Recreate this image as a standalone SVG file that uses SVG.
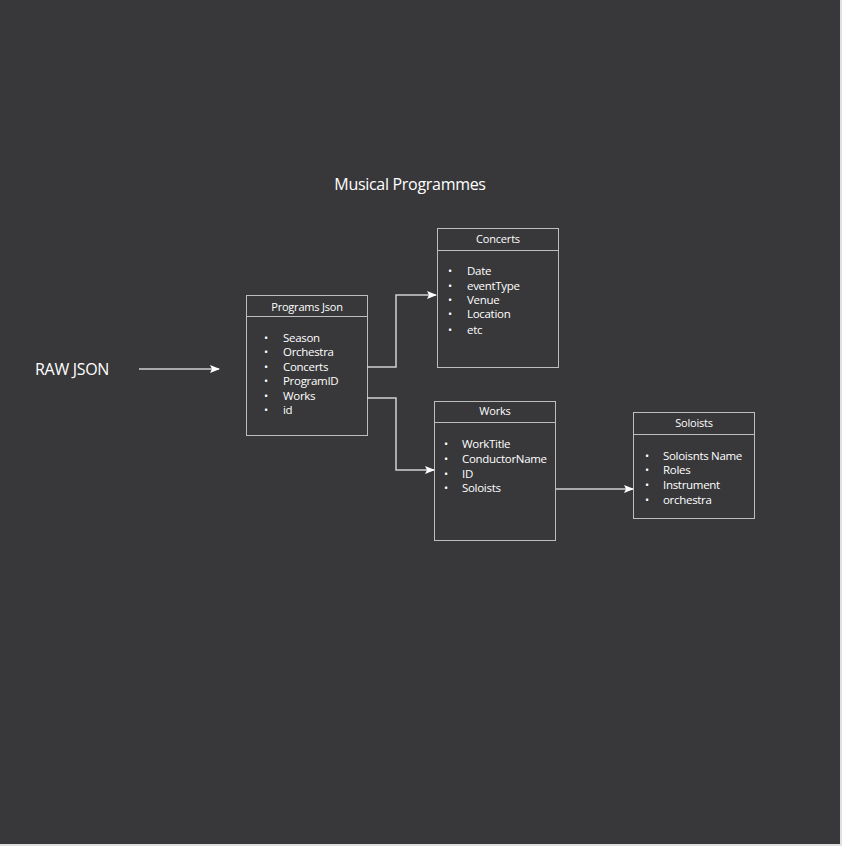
<svg xmlns="http://www.w3.org/2000/svg" width="842" height="846" viewBox="0 0 842 846">
<defs>
<style>
.box{fill:none;stroke:#bdbdbd;stroke-width:1}
.t{font-family:"Open Sans","Liberation Sans",sans-serif;fill:#ffffff}
.h{font-size:11px;text-anchor:middle;letter-spacing:-0.2px}
.li{font-size:11.5px;letter-spacing:-0.3px}
.b{font-size:11px}
.c{fill:none;stroke:#cfcfcf;stroke-width:1.5}
</style>
<marker id="ah" markerWidth="10" markerHeight="8" refX="9" refY="4" orient="auto" markerUnits="userSpaceOnUse">
<path d="M0,0 L10,4 L0,8 L2,4 Z" fill="#ffffff"/>
</marker>
</defs>
<rect x="0" y="0" width="842" height="846" fill="#e0e0e0"/>
<rect x="0" y="0" width="840" height="844" fill="#38383a"/>
<text class="t" x="410" y="190" font-size="16" text-anchor="middle" letter-spacing="-0.3">Musical Programmes</text>
<text class="t" x="35" y="375" font-size="16" letter-spacing="-0.3">RAW JSON</text>
<g id="programs">
<rect class="box" x="246.5" y="295.5" width="121" height="140"/>
<line class="box" x1="246.5" y1="316.5" x2="367.5" y2="316.5"/>
<text class="t h" x="307" y="311">Programs Json</text>
<g class="t li">
<text x="264" y="342" class="b">•</text><text x="283" y="342">Season</text>
<text x="264" y="356" class="b">•</text><text x="283" y="356">Orchestra</text>
<text x="264" y="371" class="b">•</text><text x="283" y="371">Concerts</text>
<text x="264" y="385" class="b">•</text><text x="283" y="385">ProgramID</text>
<text x="264" y="400" class="b">•</text><text x="283" y="400">Works</text>
<text x="264" y="414" class="b">•</text><text x="283" y="414">id</text>
</g>
</g>
<g id="concerts">
<rect class="box" x="437.5" y="228.5" width="121" height="139"/>
<line class="box" x1="437.5" y1="250.5" x2="558.5" y2="250.5"/>
<text class="t h" x="498" y="243">Concerts</text>
<g class="t li">
<text x="448" y="275" class="b">•</text><text x="467" y="275">Date</text>
<text x="448" y="290" class="b">•</text><text x="467" y="290">eventType</text>
<text x="448" y="304" class="b">•</text><text x="467" y="304">Venue</text>
<text x="448" y="318" class="b">•</text><text x="467" y="318">Location</text>
<text x="448" y="334" class="b">•</text><text x="467" y="334">etc</text>
</g>
</g>
<g id="works">
<rect class="box" x="434.5" y="401.5" width="121" height="139"/>
<line class="box" x1="434.5" y1="422.5" x2="555.5" y2="422.5"/>
<text class="t h" x="495" y="415">Works</text>
<g class="t li">
<text x="444" y="448" class="b">•</text><text x="462" y="448">WorkTitle</text>
<text x="444" y="463" class="b">•</text><text x="462" y="463">ConductorName</text>
<text x="444" y="478" class="b">•</text><text x="462" y="478">ID</text>
<text x="444" y="492" class="b">•</text><text x="462" y="492">Soloists</text>
</g>
</g>
<g id="soloists">
<rect class="box" x="633.5" y="412.5" width="121" height="106"/>
<line class="box" x1="633.5" y1="434.5" x2="754.5" y2="434.5"/>
<text class="t h" x="694" y="427">Soloists</text>
<g class="t li">
<text x="645" y="460" class="b">•</text><text x="663" y="460">Soloisnts Name</text>
<text x="645" y="474" class="b">•</text><text x="663" y="474">Roles</text>
<text x="645" y="489" class="b">•</text><text x="663" y="489">Instrument</text>
<text x="645" y="504" class="b">•</text><text x="663" y="504">orchestra</text>
</g>
</g>
<g id="connectors">
<path class="c" d="M139,369 H219" marker-end="url(#ah)"/>
<path class="c" d="M367,367 H396 V295 H436" marker-end="url(#ah)"/>
<path class="c" d="M367,398 H396 V470 H434" marker-end="url(#ah)"/>
<path class="c" d="M556,489 H633" marker-end="url(#ah)"/>
</g>
</svg>
